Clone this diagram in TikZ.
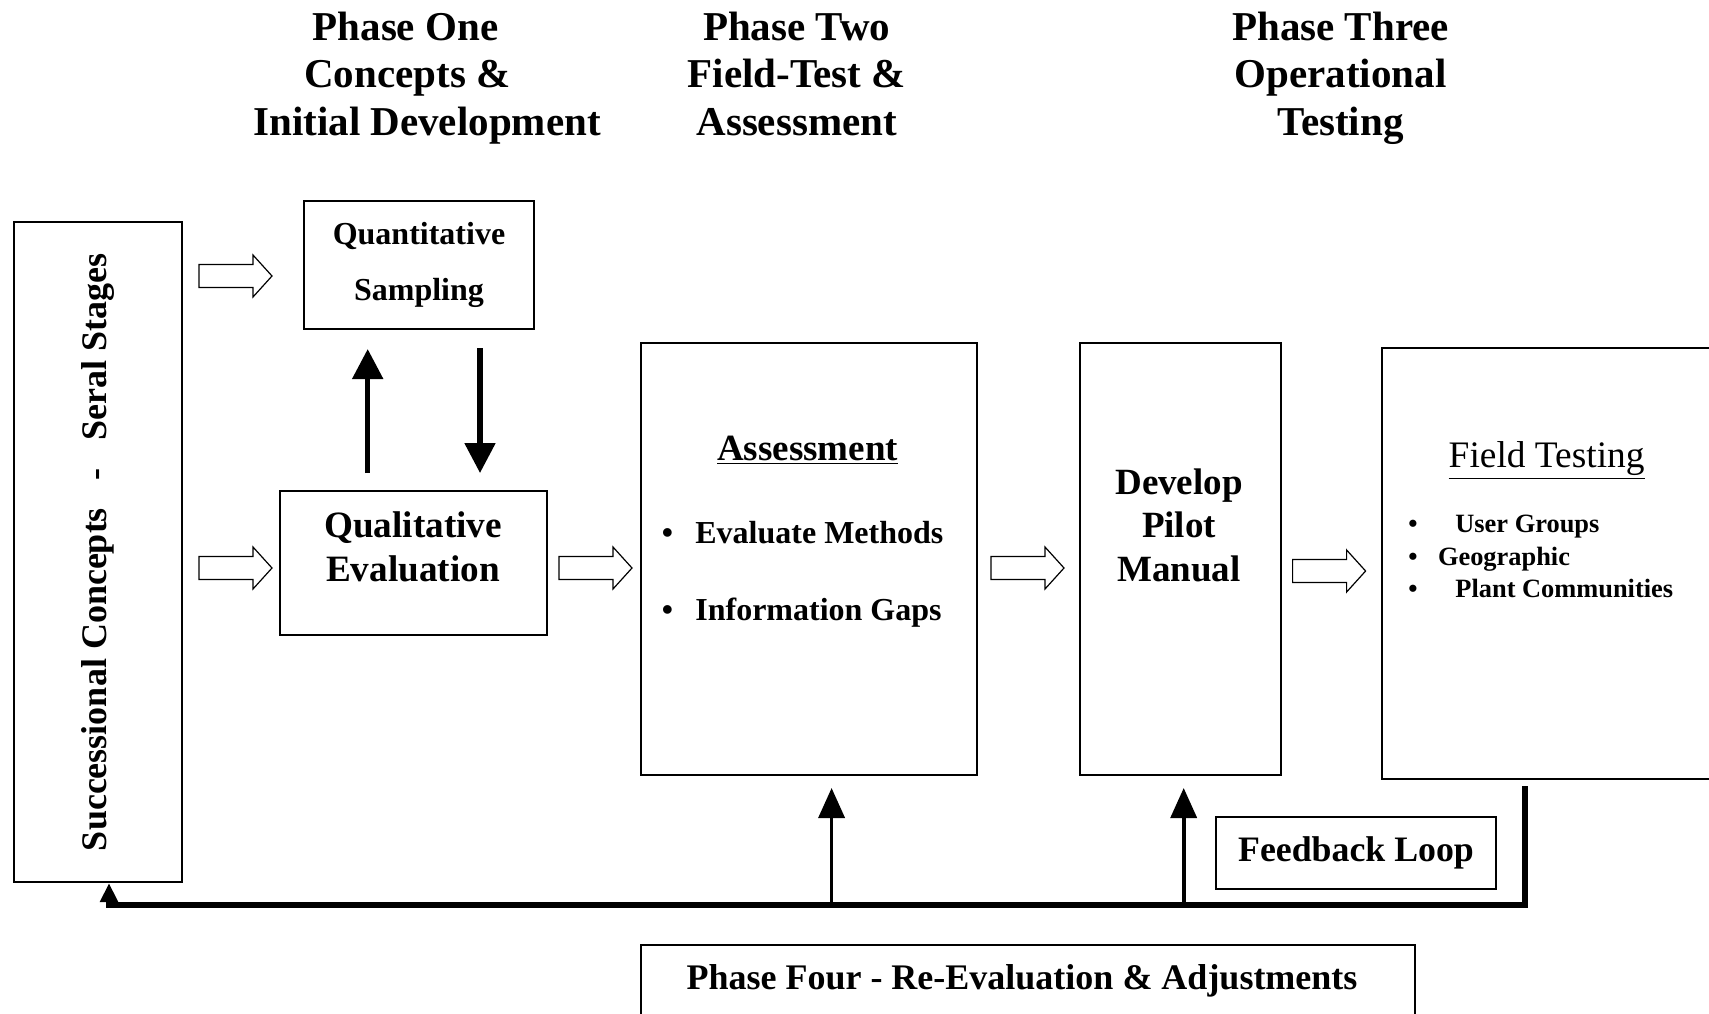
\documentclass[tikz,border=0pt]{standalone}
\usepackage{fontspec}
\setmainfont{Liberation Serif}
\usetikzlibrary{arrows.meta}
\newcommand\fsz[2]{\fontsize{#1}{#2}\selectfont}
\begin{document}
\begin{tikzpicture}[x=0.5pt,y=-0.5pt,
  box/.style={draw,line width=1pt,inner sep=0pt,anchor=north west},
  txt/.style={inner sep=0pt,align=center},
  item/.style={inner sep=0pt,anchor=base west},
  bigarrow/.style={line width=2.6pt,-{Triangle[length=15pt,width=15pt]}},
  uparrow/.style={line width=1.8pt,-{Triangle[length=15pt,width=13pt]}},
  loopline/.style={line width=2.8pt,line join=miter},
  pics/harrow/.style={code={\draw[line width=0.6pt,fill=white,line join=miter]
    (0,-11.5) -- (54,-11.5) -- (54,-21) -- (73,0) -- (54,21) -- (54,11.5) -- (0,11.5) -- cycle;}}
]
\useasboundingbox (0,0) rectangle (1709,1013);

% headers
\node[txt,font=\bfseries\fsz{20.5}{23.8}] (h1) at (427,78) {Phase One\kern21.5pt\\Concepts \&\kern19.6pt\\Initial Development};
\node[txt,font=\bfseries\fsz{20.5}{23.8}] (h2) at (796.7,78) {Phase Two\\Field-Test \&\\Assessment\vphantom{p}};
\node[txt,font=\bfseries\fsz{20.5}{23.8}] (h3) at (1340.6,78) {Phase Three\\Operational\\Testing};

% left box
\node[box,minimum width=84pt,minimum height=330pt] (left) at (13,221) {};
\node[txt,rotate=90,font=\bfseries\fsz{18}{20}] (lefttext) at (left.center) {Successional Concepts\hspace{14pt}-\hspace{14pt}Seral Stages};

% phase one boxes
\node[box,minimum width=115pt,minimum height=64pt,font=\bfseries\fsz{16}{28},align=center] (quant) at (303,200) {Quantitative\\Sampling};
\node[box,minimum width=133.5pt,minimum height=72pt] (qual) at (279,490) {};
\node[txt,font=\bfseries\fsz{18.6}{21.8}] (qualtext) at (413,547) {Qualitative\\Evaluation};

% assessment
\node[box,minimum width=167.75pt,minimum height=216pt] (assess) at (640,342) {};
\node[txt,font=\bfseries\fsz{18.5}{22}] (assesstitle) at (807.6,450) {\underline{Assessment}};
\node[item,font=\bfseries\fsz{16}{20}] (ev) at (661.4,543) {\makebox[16.8pt][l]{\textbullet}Evaluate Methods};
\node[item,font=\bfseries\fsz{16}{20}] (ig) at (661.4,620) {\makebox[16.8pt][l]{\textbullet}Information Gaps};

% develop
\node[box,minimum width=100.25pt,minimum height=216pt] (develop) at (1079,342) {};
\node[txt,font=\bfseries\fsz{18.5}{21.8}] (devtext) at (1179,525) {Develop\\Pilot\\Manual};

% field testing
\node[box,minimum width=170pt,minimum height=215.5pt] (field) at (1381,347) {};
\node[txt,font=\fsz{18.7}{22}] (fieldtitle) at (1546.6,461) {\underline{Field Testing}};
\node[item,font=\bfseries\fsz{13.2}{16}] (fb1) at (1408,532) {\makebox[23.5pt][l]{\textbullet}User Groups};
\node[item,font=\bfseries\fsz{13.2}{16}] (fb2) at (1408,565) {\makebox[14.8pt][l]{\textbullet}Geographic};
\node[item,font=\bfseries\fsz{13.2}{16}] (fb3) at (1408,597.6) {\makebox[23.5pt][l]{\textbullet}Plant Communities};

% feedback + phase four
\node[box,minimum width=140pt,minimum height=36pt,font=\bfseries\fsz{17.9}{20}] (feedback) at (1215,816) {Feedback Loop};
\node[box,minimum width=387pt,minimum height=40pt] (phase4) at (640,944) {};
\node[txt,font=\bfseries\fsz{18}{20}] (p4text) at (1022,981) {Phase Four - Re-Evaluation \& Adjustments};

% hollow arrows
\pic (ha1) at (199,276) {harrow};
\pic (ha2) at (199,568) {harrow};
\pic (ha3) at (559,568) {harrow};
\pic (ha4) at (991,568) {harrow};
\pic (ha5) at (1292.6,571) {harrow};

% solid arrows between quant and qual
\coordinate (upx) at (367.7,0);
\coordinate (downx) at (480,0);
\draw[bigarrow,shorten <=8.5pt,shorten >=9.5pt] (qual.north -| upx) -- (quant.south -| upx);
\draw[bigarrow,shorten <=9pt,shorten >=8.5pt] (quant.south -| downx) -- (qual.north -| downx);

% feedback loop
\coordinate (fbtop) at (1525,786);
\coordinate (corner) at (1525,905);
\coordinate (lend) at (109,905);
\draw[loopline,-{Triangle[length=9.5pt,width=8.5pt]}] (fbtop) -- (corner) -- (lend) -- (left.south -| lend);
\coordinate (a1) at (831.6,905);
\coordinate (a2) at (1183.7,905);
\draw[uparrow,shorten >=6pt] (a1) -- (assess.south -| a1);
\draw[uparrow,shorten >=6pt] (a2) -- (develop.south -| a2);
\end{tikzpicture}
\end{document}
